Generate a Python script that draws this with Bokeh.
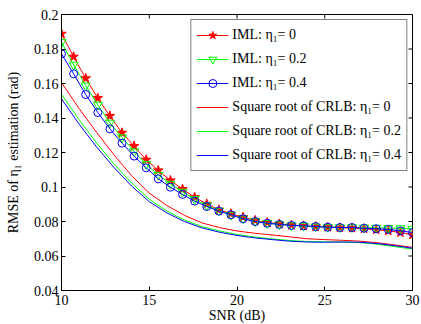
import numpy as np
from bokeh.plotting import figure
from bokeh.models import FixedTicker, CustomJSTickFormatter, Range1d
from bokeh.embed import file_html
from bokeh.resources import INLINE

# ---------------- data ----------------
snr_iml = np.linspace(10, 30, 30)
iml_eta0 = [0.1888, 0.1755, 0.1630, 0.1515, 0.1412, 0.1314, 0.1237, 0.1158, 0.1096, 0.1038,
            0.0988, 0.0940, 0.0902, 0.0868, 0.0845, 0.0825, 0.0806, 0.0794, 0.0786, 0.0779,
            0.0774, 0.0770, 0.0767, 0.0764, 0.0762, 0.0758, 0.0752, 0.0746, 0.0736, 0.0723]
iml_eta02 = [0.1840, 0.1708, 0.1588, 0.1476, 0.1372, 0.1287, 0.1206, 0.1132, 0.1070, 0.1018,
             0.0972, 0.0929, 0.0893, 0.0862, 0.0838, 0.0817, 0.0801, 0.0791, 0.0783, 0.0777,
             0.0774, 0.0770, 0.0768, 0.0766, 0.0766, 0.0764, 0.0763, 0.0762, 0.0760, 0.0757]
iml_eta04 = [0.1772, 0.1656, 0.1536, 0.1432, 0.1337, 0.1254, 0.1179, 0.1111, 0.1047, 0.0999,
             0.0957, 0.0918, 0.0887, 0.0860, 0.0839, 0.0816, 0.0800, 0.0790, 0.0783, 0.0777,
             0.0775, 0.0771, 0.0767, 0.0765, 0.0765, 0.0761, 0.0758, 0.0754, 0.0746, 0.0736]

snr_crlb = list(range(10, 31))
crlb_eta0 = [0.1605, 0.1455, 0.1317, 0.1185, 0.1065, 0.0965, 0.0893, 0.0836, 0.0792, 0.0765,
             0.0745, 0.0732, 0.0722, 0.0711, 0.0700, 0.0695, 0.0691, 0.0686, 0.0677, 0.0664, 0.0650]
crlb_eta02 = [0.1538, 0.1390, 0.1255, 0.1132, 0.1022, 0.0929, 0.0861, 0.0809, 0.0771, 0.0745,
              0.0725, 0.0710, 0.0699, 0.0690, 0.0684, 0.0682, 0.0681, 0.0678, 0.0668, 0.0654, 0.0640]
crlb_eta04 = [0.1511, 0.1365, 0.1232, 0.1112, 0.1005, 0.0915, 0.0850, 0.0800, 0.0763, 0.0738,
              0.0719, 0.0705, 0.0695, 0.0686, 0.0681, 0.0680, 0.0681, 0.0680, 0.0672, 0.0660, 0.0645]

x_ticks = [10, 15, 20, 25, 30]
y_ticks = [0.04, 0.06, 0.08, 0.10, 0.12, 0.14, 0.16, 0.18, 0.20]
x_min, x_max = 10, 30
y_min, y_max = 0.04, 0.2

labels = ["IML: η₁= 0", "IML: η₁= 0.2", "IML: η₁= 0.4",
          "Square root of CRLB: η₁= 0", "Square root of CRLB: η₁= 0.2",
          "Square root of CRLB: η₁= 0.4"]

# ---------------- figure ----------------
FONT = "Liberation Serif"
p = figure(frame_width=351, frame_height=276,
           x_range=Range1d(x_min, x_max), y_range=Range1d(y_min, y_max),
           output_backend="svg", toolbar_location=None,
           min_border_left=61, min_border_right=9, min_border_top=14, min_border_bottom=34,
           x_axis_label="SNR (dB)", y_axis_label="RMSE of η₁ estimation (rad)")
p.background_fill_color = "white"
p.border_fill_color = "white"
p.outline_line_color = "black"
p.outline_line_width = 1
p.xgrid.visible = False
p.ygrid.visible = False

p.xaxis.ticker = FixedTicker(ticks=x_ticks)
p.yaxis.ticker = FixedTicker(ticks=y_ticks)
p.yaxis.formatter = CustomJSTickFormatter(code="return String(parseFloat(tick.toFixed(2)));")
for ax in p.xaxis + p.yaxis:
    ax.axis_line_color = "black"
    ax.major_tick_line_color = "black"
    ax.major_tick_in = 4
    ax.major_tick_out = 0
    ax.minor_tick_line_color = None
    ax.major_label_text_font = FONT
    ax.major_label_text_font_size = "14px"
    ax.major_label_text_color = "black"
    ax.axis_label_text_font = FONT
    ax.axis_label_text_font_style = "normal"
    ax.axis_label_text_color = "black"
    ax.axis_label_text_font_size = "14px"
p.xaxis.major_label_standoff = 4
p.xaxis.axis_label_standoff = 0
p.xaxis.major_label_text_line_height = 1.0
p.xaxis.axis_label_text_line_height = 1.0
p.yaxis.major_label_standoff = 3
p.yaxis.axis_label_standoff = 10

# box ticks on the top and right edges, pointing inwards
p.ray(x=x_ticks, y=[y_max] * len(x_ticks), length=4, length_units="screen",
      angle=-np.pi / 2, line_color="black", line_width=1)
p.ray(x=[x_max] * len(y_ticks), y=y_ticks, length=4, length_units="screen",
      angle=np.pi, line_color="black", line_width=1)

# ---------------- series ----------------
RED, GREEN, BLUE = "#ff0000", "#00ff00", "#0000ff"

p.line(snr_iml, iml_eta0, line_color=RED, line_width=1, legend_label=labels[0])
p.scatter(snr_iml, iml_eta0, marker="star", size=10, fill_color=RED, line_color=RED,
          legend_label=labels[0])
p.line(snr_iml, iml_eta02, line_color=GREEN, line_width=1, legend_label=labels[1])
p.scatter(snr_iml, iml_eta02, marker="inverted_triangle", size=9, fill_color=None,
          line_color=GREEN, line_width=1, legend_label=labels[1])
p.line(snr_iml, iml_eta04, line_color=BLUE, line_width=1, legend_label=labels[2])
p.scatter(snr_iml, iml_eta04, marker="circle", size=8, fill_color=None,
          line_color=BLUE, line_width=1, legend_label=labels[2])
p.multi_line(xs=[snr_crlb], ys=[crlb_eta0], line_color=RED, line_width=1, legend_label=labels[3])
p.multi_line(xs=[snr_crlb], ys=[crlb_eta02], line_color=GREEN, line_width=1, legend_label=labels[4])
p.multi_line(xs=[snr_crlb], ys=[crlb_eta04], line_color=BLUE, line_width=1, legend_label=labels[5])

legend = p.legend[0]
legend.location = "top_right"
legend.margin = 5
legend.padding = 5
legend.spacing = 4
legend.glyph_width = 32
legend.glyph_height = 20
legend.label_height = 20
legend.label_standoff = 4
legend.label_text_font = FONT
legend.label_text_font_size = "14px"
legend.label_text_color = "black"
legend.border_line_color = "black"
legend.border_line_width = 1
legend.background_fill_color = "white"
legend.background_fill_alpha = 1.0

open("out.html", "w").write(file_html(p, INLINE))
